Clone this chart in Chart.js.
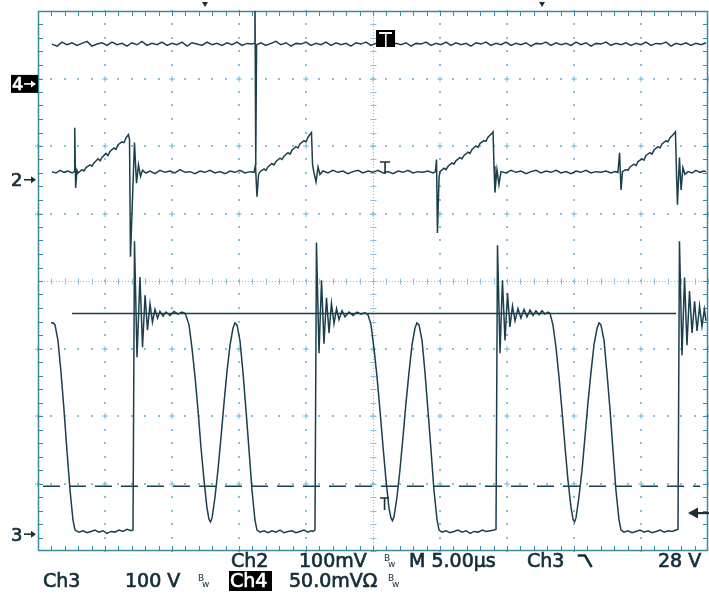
<!DOCTYPE html>
<html><head><meta charset="utf-8">
<script src="https://cdn.jsdelivr.net/npm/chart.js@4.4.0/dist/chart.umd.min.js"></script>
<style>html,body{margin:0;padding:0;background:#fff;overflow:hidden}canvas{display:block}</style>
</head><body>
<canvas id="c" width="709" height="595"></canvas>
<script>
// ---- oscilloscope settings (read from the readout) ----
const timePerDiv = 5;          // µs / div
const ch2Scale = 100;          // mV / div
const ch3Scale = 100;          // V / div
const ch4Scale = 50;           // mV / div
const ch2Pos = 1.50, ch3Pos = -3.75, ch4Pos = 2.92;   // ground markers, div

// ---- traces: [time µs, value] ----
const ch4Trace = [[1.04,29.5],[1.42,28.0],[1.79,31.0],[2.16,29.0],[2.54,30.5],[2.91,28.5],[3.28,30.0],[3.66,31.5],[4.03,28.0],[4.40,29.5],[4.78,30.5],[5.15,28.5],[5.52,31.0],[5.90,29.0],[6.27,30.0],[6.64,28.0],[7.01,30.5],[7.39,29.0],[7.76,31.5],[8.13,28.5],[8.51,30.0],[8.88,29.0],[9.25,31.0],[9.63,28.5],[10.00,30.0],[10.37,29.0],[10.75,31.0],[11.12,28.0],[11.49,30.5],[11.87,29.5],[12.24,28.5],[12.61,31.0],[12.99,29.0],[13.36,30.0],[13.73,28.5],[14.10,30.5],[14.48,29.0],[14.85,31.0],[15.22,28.5],[15.60,30.0],[15.97,29.5],[16.12,30.0],[16.19,70],[16.25,-60],[16.31,29.0],[16.64,30.5],[17.01,28.5],[17.39,30.0],[17.76,31.5],[18.13,29.0],[18.51,30.5],[18.88,28.0],[19.25,30.0],[19.63,29.5],[20.00,31.0],[20.37,28.5],[20.75,30.0],[21.12,29.0],[21.49,31.0],[21.87,28.5],[22.24,30.5],[22.61,29.0],[22.99,30.0],[23.36,28.0],[23.73,30.5],[24.10,29.5],[24.48,31.0],[24.85,28.5],[25.22,30.0],[25.60,29.0],[25.97,31.0],[26.34,28.5],[26.72,30.0],[27.09,29.0],[27.46,30.5],[27.84,28.0],[28.21,30.0],[28.58,29.5],[28.96,31.0],[29.33,28.5],[29.70,30.0],[30.07,29.0],[30.45,31.0],[30.82,28.5],[31.19,30.5],[31.57,29.0],[31.94,30.0],[32.31,28.0],[32.69,30.5],[33.06,29.5],[33.43,31.0],[33.81,28.5],[34.18,30.0],[34.55,29.0],[34.93,31.0],[35.30,28.5],[35.67,30.0],[36.04,29.0],[36.42,30.5],[36.79,28.0],[37.16,30.0],[37.54,29.5],[37.91,31.0],[38.28,28.5],[38.66,30.5],[39.03,29.0],[39.40,30.0],[39.78,28.5],[40.15,31.0],[40.52,29.0],[40.90,30.5],[41.27,28.0],[41.64,30.0],[42.01,29.5],[42.39,31.0],[42.76,28.5],[43.13,30.0],[43.51,29.0],[43.88,30.5],[44.25,28.5],[44.63,30.0],[45.00,29.0],[45.37,31.0],[45.75,28.5],[46.12,30.0],[46.49,29.5],[46.87,31.0],[47.24,28.0],[47.61,30.0],[47.99,29.0],[48.36,30.5],[48.73,28.5],[49.10,30.0],[49.48,29.0],[49.85,30.5]];

const ch2Trace = [[1.04,12],[1.34,10],[1.64,14],[1.94,11],[2.24,13],[2.54,10],[2.69,12],[2.74,77],[2.81,-12],[2.91,14],[2.99,10],
[3.28,15],[3.43,13],[3.58,18],[3.88,22],[4.03,20],[4.18,25],[4.48,31],[4.63,28],[4.78,33],[5.07,39],[5.22,36],[5.37,42],[5.67,47],[5.82,45],[5.97,52],[6.27,56],[6.42,55],[6.57,62],[6.75,67],[6.83,60],[6.90,-114],[7.20,55],[7.35,-5],[7.50,22],[7.65,5],[7.80,14],[8.06,10],
[8.36,13],[8.73,9],[9.10,14],[9.48,11],[9.85,13],[10.22,10],[10.60,15],[10.97,11],[11.34,12],[11.72,9],[12.09,13],[12.46,11],[12.84,14],[13.21,10],[13.58,12],[13.96,9],[14.33,13],[14.70,11],[15.07,14],[15.45,10],[15.82,12],[16.12,11],
[16.23,22],[16.34,-25],[16.46,8],
[16.57,12],[16.87,16],[17.01,14],[17.16,19],[17.46,24],[17.61,22],[17.76,27],[18.06,32],[18.21,30],[18.36,35],[18.66,40],[18.81,38],[18.96,44],[19.25,49],[19.40,47],[19.55,53],[19.85,58],[20.00,56],[20.15,63],[20.37,69],[20.41,70],[20.49,22],[20.60,10],[20.75,-3],[20.90,19],[21.04,8],[21.27,13],
[21.64,10],[22.01,14],[22.39,11],[22.76,13],[23.13,9],[23.51,12],[23.88,14],[24.25,10],[24.63,13],[25.00,11],[25.37,14],[25.75,10],[26.12,12],[26.49,9],[26.87,13],[27.24,11],[27.61,14],[27.99,10],[28.36,12],[28.73,11],[29.10,13],[29.48,10],[29.66,12],
[29.74,30],[29.81,-79],[29.93,4],[30.00,12],
[30.30,17],[30.45,15],[30.60,20],[30.90,25],[31.04,23],[31.19,28],[31.49,33],[31.64,31],[31.79,36],[32.09,41],[32.24,39],[32.39,45],[32.69,50],[32.84,48],[32.99,54],[33.28,58],[33.43,57],[33.58,63],[33.88,69],[33.96,71],[34.03,20],[34.10,-19],[34.25,15],[34.40,-7],[34.55,12],
[34.93,10],[35.30,14],[35.67,11],[36.04,13],[36.42,9],[36.79,12],[37.16,14],[37.54,10],[37.91,13],[38.28,11],[38.66,14],[39.03,10],[39.40,12],[39.78,9],[40.15,13],[40.52,11],[40.90,14],[41.27,10],[41.64,12],[42.01,11],[42.39,13],[42.76,10],[43.06,12],[43.28,11],
[43.40,40],[43.51,-15],[43.62,12],
[43.88,15],[44.03,14],[44.18,19],[44.48,23],[44.63,21],[44.78,27],[45.07,31],[45.22,29],[45.37,36],[45.67,40],[45.82,38],[45.97,44],[46.27,49],[46.42,47],[46.57,53],[46.87,58],[47.01,56],[47.16,62],[47.46,68],[47.57,71],[47.65,10],[47.72,-37],[47.87,33],[47.99,-15],[48.13,18],[48.28,8],[48.51,12],
[48.81,10],[49.10,14],[49.40,11],[49.70,13],[49.85,12]];

const ch3Trace = [[0.97,313],[1.12,313],[1.27,310],[1.49,287],[1.72,239],[1.94,184],[2.16,124],[2.39,65],[2.61,21],[2.76,6],
[3.06,3],[3.36,5],[3.66,2],[3.96,4],[4.25,6],[4.55,3],[4.85,5],[5.15,1],[5.45,4],[5.75,3],[6.04,6],[6.34,4],[6.64,7],[6.94,5],
[7.09,6],[7.20,434],[7.39,262],[7.61,381],[7.80,277],[7.99,354],[8.17,302],[8.36,341],[8.54,314],[8.73,333],[8.92,320],[9.10,330],[9.33,323],[9.55,329],[9.85,324],[10.15,330],[10.45,326],[10.75,329],[10.97,327],
[11.04,324],[11.27,310],[11.49,276],[11.72,233],[11.94,184],[12.16,129],[12.39,80],[12.61,39],[12.76,22],[12.87,18],[12.99,24],[13.21,55],[13.43,95],[13.66,144],[13.88,194],[14.10,240],[14.33,280],[14.55,305],[14.70,313],[14.85,310],[15.07,287],[15.30,239],[15.52,184],[15.75,124],[15.97,65],[16.19,21],[16.34,6],
[16.57,3],[16.87,5],[17.16,2],[17.46,5],[17.76,3],[18.06,6],[18.36,2],[18.66,4],[18.96,5],[19.25,2],[19.55,4],[19.85,6],[20.15,3],[20.37,5],[20.52,4],
[20.67,6],[20.78,432],[20.97,268],[21.16,376],[21.34,282],[21.53,350],[21.72,298],[21.90,342],[22.09,312],[22.28,334],[22.46,318],[22.69,331],[22.91,322],[23.21,329],[23.51,324],[23.81,329],[24.10,326],[24.40,328],[24.63,325],
[24.85,310],[25.07,276],[25.30,233],[25.52,184],[25.75,129],[25.97,80],[26.19,39],[26.34,24],[26.45,20],[26.57,26],[26.79,55],[27.01,95],[27.24,144],[27.46,194],[27.69,240],[27.91,280],[28.13,305],[28.28,313],[28.43,310],[28.66,287],[28.88,239],[29.10,184],[29.33,124],[29.55,65],[29.78,21],[29.93,6],
[30.15,3],[30.45,5],[30.75,2],[31.05,4],[31.35,6],[31.65,3],[31.95,5],[32.25,1],[32.55,4],[32.85,3],[33.15,6],[33.45,4],[33.75,5],[34.03,6],
[34.18,7],[34.29,428],[34.48,268],[34.66,376],[34.85,287],[35.04,357],[35.22,307],[35.41,338],[35.60,316],[35.82,334],[36.04,320],[36.27,333],[36.49,322],[36.72,332],[36.94,324],[37.16,331],[37.39,325],[37.61,331],[37.84,326],[38.06,329],[38.21,327],
[38.43,310],[38.66,276],[38.88,233],[39.10,184],[39.33,129],[39.55,80],[39.78,39],[39.93,22],[40.04,18],[40.15,24],[40.37,55],[40.60,95],[40.82,144],[41.04,194],[41.27,240],[41.49,280],[41.72,305],[41.87,313],[42.01,310],[42.24,287],[42.46,239],[42.69,184],[42.91,124],[43.13,65],[43.36,21],[43.51,6],
[43.73,3],[44.03,5],[44.33,2],[44.63,4],[44.93,6],[45.23,3],[45.53,5],[45.83,2],[46.13,4],[46.43,6],[46.73,3],[47.03,5],[47.33,4],[47.61,6],
[47.76,7],[47.87,434],[48.06,265],[48.25,380],[48.43,280],[48.62,360],[48.81,298],[49.00,345],[49.18,301],[49.37,338],[49.55,308],[49.73,333],[49.85,316]];

// ---- Ch3 H-bar cursors (V) and their time span (µs) ----
const cursorVolts = [327, 71];
const cursorStart = [2.54, 0.37];
const cursorEnd   = [47.61, 49.40];

// ---- readout text ----
const readoutLine1 = [["Ch2",231],["100mV",299],["M 5.00\u00b5s",409],["Ch3",527],["28 V",658]];
const readoutLine2 = [["Ch3",43],["100 V",125],["50.0mV\u03a9",289]];

const traceColor = '#1b3f4c';
const gridColor = '#82c0dc';
const frameColor = '#3a8aa2';
const textColor = '#142e3a';

const toPts = (arr, pos, scale) => arr.map(([t, v]) => ({x: t, y: pos + v / scale}));

const lineDs = (data, dash) => ({data, showLine:true, pointRadius:0, borderColor:traceColor, borderWidth:1.5, tension:0, borderDash: dash || [], clip:0});

const gridPlugin = {
  id:'scopeGrid',
  beforeDatasetsDraw(chart){
    const {ctx, chartArea:a, scales:{x, y}} = chart;
    ctx.save();
    ctx.fillStyle = gridColor;
    for (let d = 1; d < 10; d++){
      if (d === 5) continue;
      const px = Math.round(x.getPixelForValue(d*timePerDiv));
      for (let k = 0; k <= 40; k++){
        const py = Math.round(y.getPixelForValue(-4 + k*0.2));
        ctx.fillRect(px-1, py-1, 2, 2);
      }
    }
    for (let d = -3; d <= 3; d++){
      if (d === 0) continue;
      const py = Math.round(y.getPixelForValue(d));
      for (let k = 0; k <= 50; k++){
        const px = Math.round(x.getPixelForValue(k));
        ctx.fillRect(px-1, py-1, 2, 2);
        if (k % 5 === 0){ ctx.fillRect(px-3, py-0.5, 6, 1); ctx.fillRect(px-0.5, py-3, 1, 6); }
      }
    }
    // center cross
    const cx = Math.round(x.getPixelForValue(25)) + 0.5;
    const cy = Math.round(y.getPixelForValue(0)) + 0.5;
    ctx.strokeStyle = gridColor; ctx.lineWidth = 1;
    ctx.setLineDash([1,2]);
    ctx.beginPath(); ctx.moveTo(a.left, cy); ctx.lineTo(a.right, cy); ctx.moveTo(cx, a.top); ctx.lineTo(cx, a.bottom); ctx.stroke();
    ctx.setLineDash([]);
    ctx.beginPath();
    for (let k = 0; k <= 50; k++){ const px = Math.round(x.getPixelForValue(k))+0.5; ctx.moveTo(px, cy-3); ctx.lineTo(px, cy+3); }
    for (let k = 0; k <= 40; k++){ const py = Math.round(y.getPixelForValue(-4+k*0.2))+0.5; ctx.moveTo(cx-3, py); ctx.lineTo(cx+3, py); }
    ctx.stroke();
    // frame with ticks
    ctx.strokeStyle = frameColor; ctx.lineWidth = 1.5;
    ctx.strokeRect(a.left+0.5, a.top+0.5, a.right-a.left-1, a.bottom-a.top-1);
    ctx.lineWidth = 1;
    ctx.beginPath();
    for (let k = 1; k < 50; k++){
      const px = Math.round(x.getPixelForValue(k))+0.5;
      ctx.moveTo(px, a.top); ctx.lineTo(px, a.top+5);
      ctx.moveTo(px, a.bottom); ctx.lineTo(px, a.bottom-5);
    }
    for (let k = 1; k < 40; k++){
      const py = Math.round(y.getPixelForValue(-4+k*0.2))+0.5;
      ctx.moveTo(a.left, py); ctx.lineTo(a.left+5, py);
      ctx.moveTo(a.right, py); ctx.lineTo(a.right-5, py);
    }
    ctx.stroke();
    ctx.restore();
  }
};

const labelPlugin = {
  id:'scopeLabels',
  afterDraw(chart){
    const {ctx, scales:{x, y}} = chart;
    ctx.save();
    const f = '19px "DejaVu Sans"';
    const boldText = (s, px, by, col) => {
      ctx.fillStyle = col; ctx.strokeStyle = col; ctx.lineWidth = 0.7;
      ctx.fillText(s, px, by); ctx.strokeText(s, px, by);
    };
    ctx.font = f; ctx.textBaseline = 'alphabetic'; ctx.textAlign = 'left';
    readoutLine1.forEach(([s, px]) => boldText(s, px, 567, textColor));
    readoutLine2.forEach(([s, px]) => boldText(s, px, 587, textColor));
    // bandwidth-limit glyphs
    ctx.font = '9px "DejaVu Sans"'; ctx.fillStyle = textColor;
    [[384,567],[198,587],[388,587]].forEach(([px, by]) => { ctx.fillText('B', px, by-6); ctx.fillText('w', px+4, by); });
    // inverted Ch4 label
    ctx.fillStyle = '#000'; ctx.fillRect(229, 571, 43, 20);
    ctx.font = f; boldText('Ch4', 230, 587, '#fff');
    // falling-edge trigger symbol
    ctx.strokeStyle = textColor; ctx.lineWidth = 2.6; ctx.lineCap = 'square';
    ctx.beginPath(); ctx.moveTo(579, 555.5); ctx.lineTo(585, 555.5); ctx.lineTo(591, 566); ctx.stroke();
    ctx.lineCap = 'butt';
    // channel ground markers
    const markFont = '18px "DejaVu Sans"';
    const drawArrow = (x0, x1, yy, col) => {
      ctx.strokeStyle = col; ctx.fillStyle = col; ctx.lineWidth = 1.6;
      ctx.beginPath(); ctx.moveTo(x0, yy); ctx.lineTo(x1-4, yy); ctx.stroke();
      ctx.beginPath(); ctx.moveTo(x1, yy); ctx.lineTo(x1-5, yy-3.5); ctx.lineTo(x1-5, yy+3.5); ctx.closePath(); ctx.fill();
    };
    const m4 = y.getPixelForValue(ch4Pos), m2 = y.getPixelForValue(ch2Pos), m3 = y.getPixelForValue(ch3Pos);
    ctx.fillStyle = '#000'; ctx.fillRect(11, m4-9, 27, 18);
    ctx.font = markFont; boldText('4', 12, m4+6.5, '#fff');
    drawArrow(24, 36, m4, '#fff');
    ctx.font = markFont; boldText('2', 11, m2+6.5, textColor);
    drawArrow(24, 36, m2, textColor);
    ctx.font = markFont; boldText('3', 11, m3+6.5, textColor);
    drawArrow(24, 36, m3, textColor);
    // trigger position / level markers
    const tx = x.getPixelForValue(25.9);
    ctx.fillStyle = '#000'; ctx.fillRect(tx-9, 30, 19, 17);
    ctx.fillStyle = '#fff'; ctx.fillRect(tx-6, 32, 13, 2); ctx.fillRect(tx, 32, 1.5, 15);
    ctx.strokeStyle = '#1a2f38'; ctx.lineWidth = 1.6;
    ctx.beginPath();
    ctx.moveTo(tx-5, 162); ctx.lineTo(tx+5, 162); ctx.moveTo(tx, 162); ctx.lineTo(tx, 174);
    ctx.moveTo(tx-5, 498); ctx.lineTo(tx+4, 498); ctx.moveTo(tx-0.5, 498); ctx.lineTo(tx-0.5, 510);
    ctx.stroke();
    // top cursor-position ticks
    ctx.fillStyle = '#1a2f38';
    [205, 542].forEach(px => { ctx.beginPath(); ctx.moveTo(px-3, 2); ctx.lineTo(px+3, 2); ctx.lineTo(px, 7); ctx.closePath(); ctx.fill(); });
    // right-hand level arrow
    ctx.beginPath(); ctx.moveTo(688, 513); ctx.lineTo(698, 507.5); ctx.lineTo(698, 518.5); ctx.closePath(); ctx.fill();
    ctx.fillRect(697, 512, 12, 2.2);
    ctx.restore();
  }
};

new Chart(document.getElementById('c'), {
  type:'scatter',
  data:{ datasets:[
    lineDs(toPts(ch4Trace, ch4Pos, ch4Scale)),
    lineDs(toPts(ch2Trace, ch2Pos, ch2Scale)),
    lineDs(toPts(ch3Trace, ch3Pos, ch3Scale)),
    lineDs([{x:cursorStart[0], y:ch3Pos+cursorVolts[0]/ch3Scale},{x:cursorEnd[0], y:ch3Pos+cursorVolts[0]/ch3Scale}]),
    lineDs([{x:cursorStart[1], y:ch3Pos+cursorVolts[1]/ch3Scale},{x:cursorEnd[1], y:ch3Pos+cursorVolts[1]/ch3Scale}], [17,9])
  ]},
  options:{
    responsive:false, animation:false, devicePixelRatio:1,
    layout:{padding:{left:38, top:11, right:1, bottom:44}},
    plugins:{legend:{display:false}, tooltip:{enabled:false}},
    scales:{
      x:{type:'linear', min:0, max:10*timePerDiv, display:false},
      y:{type:'linear', min:-4, max:4, display:false}
    }
  },
  plugins:[gridPlugin, labelPlugin]
});
</script>
</body></html>
